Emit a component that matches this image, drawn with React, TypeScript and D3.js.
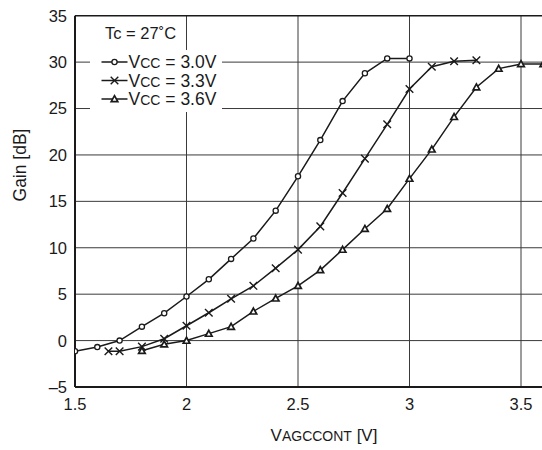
import React from "react";
import * as d3 from "d3";

// Gain vs VAGCCONT, three supply voltages
const xs30 = [1.5, 1.6, 1.7, 1.8, 1.9, 2.0, 2.1, 2.2, 2.3, 2.4, 2.5, 2.6, 2.7, 2.8, 2.9, 3.0];
const gain30 = [-1.15, -0.7, 0, 1.5, 2.95, 4.75, 6.6, 8.8, 11.0, 14.0, 17.7, 21.6, 25.8, 28.8, 30.4, 30.4];

const xs33 = [1.65, 1.7, 1.8, 1.9, 2.0, 2.1, 2.2, 2.3, 2.4, 2.5, 2.6, 2.7, 2.8, 2.9, 3.0, 3.1, 3.2, 3.3];
const gain33 = [-1.15, -1.15, -0.65, 0.2, 1.6, 3.0, 4.5, 5.9, 7.8, 9.8, 12.3, 15.9, 19.6, 23.3, 27.1, 29.5, 30.1, 30.2];

const xs36 = [1.8, 1.9, 2.0, 2.1, 2.2, 2.3, 2.4, 2.5, 2.6, 2.7, 2.8, 2.9, 3.0, 3.1, 3.2, 3.3, 3.4, 3.5, 3.6];
const gain36 = [-1.1, -0.4, 0, 0.75, 1.5, 3.15, 4.55, 5.9, 7.6, 9.8, 12.05, 14.2, 17.45, 20.6, 24.1, 27.3, 29.3, 29.8, 29.8];

const xTicks = [1.5, 2, 2.5, 3, 3.5];
const xTickLabels = ["1.5", "2", "2.5", "3", "3.5"];
const yTicks = [-5, 0, 5, 10, 15, 20, 25, 30, 35];
const yTickLabels = ["\u20135", "0", "5", "10", "15", "20", "25", "30", "35"];

const legendLabels = ["3.0V", "3.3V", "3.6V"];
const markerKinds = ["circle", "cross", "triangle"];

const W = 542, H = 450;
const left = 75, top = 15.7, bottom = 387, plotRight = 545;
const font = "'Liberation Sans', Arial, sans-serif";
const ink = "#1a1a1a";

const Marker = ({ kind, x, y }: { kind: string; x: number; y: number }) => {
  if (kind === "circle")
    return <circle cx={x} cy={y} r={2.6} fill="#fff" stroke={ink} strokeWidth={1.3} />;
  if (kind === "cross") {
    const s = 3.8;
    return (
      <path d={`M${x - s},${y - s}L${x + s},${y + s}M${x - s},${y + s}L${x + s},${y - s}`}
        stroke={ink} strokeWidth={1.4} fill="none" />
    );
  }
  const s = 3.3;
  return (
    <path d={`M${x},${y - s}L${x + s},${y + s * 0.8}L${x - s},${y + s * 0.8}Z`}
      fill="#fff" stroke={ink} strokeWidth={1.7} strokeLinejoin="miter" />
  );
};

export default function App() {
  const x = d3.scaleLinear().domain([1.5, 3.5]).range([left, 521]);
  const y = d3.scaleLinear().domain([-5, 35]).range([bottom, top]);

  const series = [
    { xs: xs30, ys: gain30, kind: markerKinds[0] },
    { xs: xs33, ys: gain33, kind: markerKinds[1] },
    { xs: xs36, ys: gain36, kind: markerKinds[2] },
  ];

  const line = d3.line<[number, number]>().x(d => x(d[0])).y(d => y(d[1]));

  // legend layout
  const legX = 101.5, legY0 = 62, legDy = 18.5;

  return (
    <svg width={W} height={H} style={{ position: "absolute", left: 0, top: 0, background: "#fff" }}
      fontFamily={font}>
      <defs>
        <clipPath id="plot">
          <rect x={left} y={top - 2} width={plotRight - left} height={bottom - top + 4} />
        </clipPath>
      </defs>

      {/* grid */}
      <g stroke="#3a3a3a" strokeWidth={1}>
        {yTicks.slice(1, -1).map(t => (
          <line key={"h" + t} x1={left} x2={plotRight} y1={y(t)} y2={y(t)} />
        ))}
        {xTicks.slice(1).map(t => (
          <line key={"v" + t} x1={x(t)} x2={x(t)} y1={top} y2={bottom} />
        ))}
      </g>

      {/* legend background */}
      <rect x={90} y={50} width={132} height={62} fill="#fff" />

      {/* frame */}
      <line x1={left} x2={plotRight} y1={top} y2={top} stroke={ink} strokeWidth={1.5} />
      <line x1={left} x2={left} y1={top} y2={bottom} stroke={ink} strokeWidth={2} />
      <line x1={left} x2={plotRight} y1={bottom} y2={bottom} stroke={ink} strokeWidth={2} />

      {/* data */}
      <g clipPath="url(#plot)">
        {series.map((s, i) => (
          <g key={i}>
            <path d={line(s.xs.map((v, j) => [v, s.ys[j]]) as [number, number][]) || ""}
              fill="none" stroke={ink} strokeWidth={1.5} />
            {s.xs.map((v, j) => (
              <Marker key={j} kind={s.kind} x={x(v)} y={y(s.ys[j])} />
            ))}
          </g>
        ))}
      </g>

      {/* tick labels */}
      <g fontSize={16.5} fill={ink}>
        {yTicks.map((t, i) => (
          <text key={t} x={67} y={y(t)} dy="0.36em" textAnchor="end">{yTickLabels[i]}</text>
        ))}
        {xTicks.map((t, i) => (
          <text key={t} x={x(t)} y={410} textAnchor="middle">{xTickLabels[i]}</text>
        ))}
      </g>

      {/* axis titles */}
      <text transform="translate(26,165) rotate(-90)" textAnchor="middle" fontSize={17.5} fill={ink}>
        Gain [dB]
      </text>
      <text x={324} y={441} textAnchor="middle" fontSize={17} fill={ink}>
        V<tspan fontSize={14}>AGCCONT</tspan> [V]
      </text>

      {/* legend */}
      <text x={105} y={39} fontSize={16.5} fill={ink}>Tc = 27˚C</text>
      {legendLabels.map((lab, i) => {
        const ly = legY0 + i * legDy;
        return (
          <g key={lab}>
            <line x1={legX} x2={legX + 26} y1={ly} y2={ly} stroke={ink} strokeWidth={1.5} />
            <Marker kind={markerKinds[i]} x={legX + 13} y={ly} />
            <text x={legX + 27} y={ly} dy="0.36em" fontSize={17.5} fill={ink}>
              V<tspan fontSize={14}>CC</tspan> = {lab}
            </text>
          </g>
        );
      })}
    </svg>
  );
}
